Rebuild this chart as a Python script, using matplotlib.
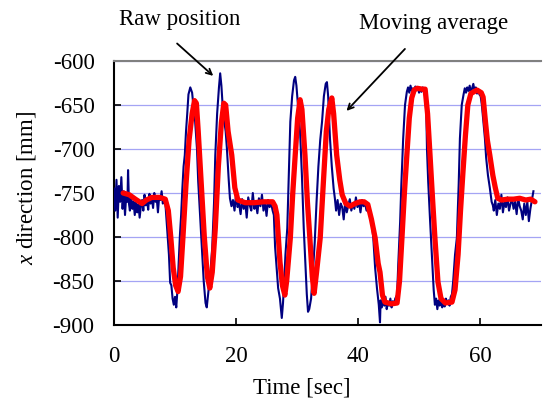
import matplotlib.pyplot as plt

plt.rcParams['font.family'] = ['Liberation Serif', 'DejaVu Serif']
plt.rcParams['mathtext.fontset'] = 'custom'
plt.rcParams['mathtext.it'] = 'Liberation Serif:italic'
plt.rcParams['mathtext.rm'] = 'Liberation Serif'
plt.rcParams['axes.unicode_minus'] = False

# raw position
raw_t = [0.0, 0.2, 0.4, 0.6, 0.8, 1.0, 1.2, 1.4, 1.6, 1.8, 2.0, 2.2, 2.3, 2.45, 2.6, 2.8,
         3.0, 3.2, 3.4, 3.6, 3.8, 4.0, 4.2, 4.4, 4.6, 4.8, 5.0, 5.2, 5.4, 5.6, 5.8,
         6.0, 6.2, 6.4, 6.6, 6.8, 7.0, 7.2, 7.4, 7.6, 7.8, 8.0, 8.2, 8.4,
         8.7, 9.0, 9.2, 9.4, 9.6, 9.8, 10.0, 10.2, 10.4, 10.6, 10.8, 11.0, 11.2, 11.4,
         11.6, 11.8, 12.0, 12.2, 12.5, 12.8, 13.0, 13.3, 13.6, 13.8, 14.1, 14.4, 14.7,
         15.0, 15.2, 15.5, 15.8, 16.1, 16.4, 16.6, 16.9, 17.2, 17.4, 17.6, 17.8, 18.0,
         18.3, 18.5, 18.8, 19.0,
         19.25, 19.5, 19.75, 20.0, 20.25, 20.5, 20.75, 21.0, 21.25, 21.5, 21.75, 22.0,
         22.25, 22.5, 22.75, 23.0, 23.25, 23.5, 23.75, 24.0, 24.25, 24.5, 24.75, 25.0,
         25.25, 25.5, 25.75, 26.0,
         26.2, 26.4, 26.7, 26.9, 27.2, 27.5, 27.7, 27.9, 28.1, 28.4, 28.6, 28.9, 29.2,
         29.5, 29.7, 29.9, 30.2, 30.5, 30.8, 31.1, 31.3, 31.6, 31.8, 32.0, 32.3, 32.6,
         32.9, 33.2, 33.5, 33.8, 34.1, 34.4, 34.7, 34.9, 35.1, 35.4, 35.7, 36.0, 36.2,
         36.4, 36.65, 36.9, 37.15, 37.4, 37.65, 37.9, 38.15, 38.4, 38.65, 38.9, 39.15,
         39.4, 39.65, 39.9, 40.15, 40.4, 40.65, 40.9, 41.15, 41.4, 41.65, 41.9,
         42.2, 42.5, 42.8, 43.1, 43.4, 43.6, 43.7,
         43.9, 44.1, 44.3, 44.5, 44.7, 44.9, 45.1, 45.3, 45.5, 45.7, 45.9, 46.1, 46.4,
         46.6, 46.9, 47.1, 47.4, 47.7, 48.0, 48.2,
         48.4, 48.6, 48.8, 49.0, 49.2, 49.4, 49.6, 49.8, 50.0, 50.2, 50.4, 50.6, 50.8,
         51.0, 51.2,
         51.3, 51.5, 51.8, 52.1, 52.4, 52.6,
         52.8, 53.0, 53.2, 53.4, 53.6, 53.8, 54.0, 54.2, 54.4, 54.6, 54.8, 55.0, 55.2,
         55.4, 55.6,
         55.9, 56.2, 56.5, 56.7, 57.0, 57.3, 57.5,
         57.7, 57.9, 58.1, 58.3, 58.5, 58.7, 58.9, 59.1, 59.3, 59.5, 59.7, 59.9, 60.1,
         60.3, 60.5,
         60.8, 61.0, 61.3, 61.6, 61.9, 62.1,
         62.25, 62.5, 62.75, 63.0, 63.25, 63.5, 63.75, 64.0, 64.25, 64.5, 64.75, 65.0,
         65.25, 65.5, 65.75, 66.0, 66.25, 66.5, 66.75, 67.0, 67.25, 67.5, 67.75, 68.0,
         68.25, 68.5, 68.75]
raw_v = [-745, -770, -735, -778, -742, -760, -732, -768, -748, -775, -752, -760, -724, -762,
         -770, -752, -768, -760, -775, -758, -772, -763, -778, -765, -758, -770, -752,
         -764, -757, -769, -751, -762, -755, -767, -750, -760, -756, -772, -754, -758,
         -748, -762, -756, -760,
         -790, -820, -852, -855, -870, -877, -868, -880, -860, -830, -798, -775, -745,
         -720, -707, -680, -660, -638, -630, -636, -650, -669, -700, -737, -775, -812,
         -850, -875, -880, -860, -840, -812, -760, -707, -660, -630, -614, -628, -650,
         -665, -680, -699, -735, -756,
         -765, -758, -770, -752, -766, -762, -774, -757, -768, -760, -778, -755, -764,
         -770, -750, -768, -762, -773, -756, -765, -752, -770, -760, -776, -758, -766,
         -762, -770,
         -775, -811, -840, -858, -870, -892, -875, -850, -820, -790, -740, -669, -640,
         -622, -618, -628, -655, -681, -730, -790, -820, -865, -885, -882, -870, -840,
         -806, -760, -720, -690, -669, -640, -626, -624, -640, -688, -720, -745, -756,
         -770, -758, -775, -762, -766, -780, -760, -772, -764, -757, -770, -762, -768,
         -755, -766, -760, -772, -758, -765, -762, -770, -768, -775,
         -780, -801, -835, -858, -877, -897, -872,
         -880, -870, -878, -868, -882, -874, -878, -870, -880, -873, -877, -870, -866,
         -830, -783, -740, -688, -650, -635, -630,
         -636, -628, -634, -631, -637, -629, -633, -630, -636, -632, -635, -630, -634,
         -640, -660,
         -700, -737, -780, -820, -860, -877,
         -870, -882, -872, -878, -868, -880, -874, -879, -870, -876, -872, -878, -868,
         -865, -850,
         -820, -801, -740, -688, -650, -638, -631,
         -636, -630, -634, -628, -636, -631, -626, -634, -630, -637, -632, -638, -640,
         -650, -665,
         -688, -710, -730, -744, -760, -764,
         -770, -758, -775, -762, -768, -752, -772, -760, -766, -755, -770, -762, -757,
         -768, -760, -774, -756, -765, -770, -780, -762, -775, -760, -782, -768, -758,
         -748]

# moving average
avg_t = [1.5, 2.5, 3.5, 4.6, 5.3, 6.2, 7.5, 8.4, 8.9, 9.3, 9.7, 10.1, 10.5, 10.9, 11.3,
         11.8, 12.3, 12.8, 13.2, 13.5, 13.8, 14.3, 14.8, 15.3, 15.7, 16.1, 16.6, 17.1,
         17.6, 18.0, 18.3, 18.7, 19.3, 19.8, 20.3, 21.5, 23.0, 24.5, 26.0, 26.4, 26.7,
         27.2, 27.6, 28.0, 28.3, 28.9, 29.3, 29.7, 30.1, 30.5, 30.8, 31.3, 31.7, 32.1,
         32.5, 32.8, 33.2, 33.8, 34.3, 34.8, 35.2, 35.7, 36.0, 36.5, 37.0, 37.4, 38.0,
         38.7, 39.5, 40.3, 41.0, 41.6, 42.2, 42.8, 43.3, 43.6, 44.0, 44.4, 45.5, 46.4,
         46.8, 47.2, 47.6, 48.0, 48.4, 48.8, 49.2, 49.7, 50.5, 51.0, 51.4, 51.8, 52.2,
         52.6, 53.1, 53.6, 54.3, 55.4, 55.9, 56.4, 56.8, 57.2, 57.6, 58.0, 58.5, 59.5,
         60.2, 60.5, 60.9, 61.2, 61.6, 62.1, 62.5, 62.9, 63.5, 64.5, 65.5, 66.5, 67.5,
         68.3, 69.0]
avg_v = [-750, -752, -757, -762, -758, -755, -755, -757, -770, -800, -835, -855, -862,
         -845, -800, -740, -690, -660, -645, -648, -680, -740, -800, -845, -858, -840,
         -790, -720, -670, -648, -650, -680, -707, -744, -758, -761, -761, -760, -760,
         -765, -775, -828, -855, -866, -850, -801, -750, -707, -665, -644, -655, -707,
         -760, -801, -845, -864, -840, -801, -740, -680, -655, -642, -660, -707, -735,
         -752, -762, -765, -762, -760, -760, -763, -780, -801, -830, -840, -866, -874,
         -876, -875, -850, -801, -750, -707, -665, -642, -633, -631, -632, -632, -660,
         -707, -755, -801, -851, -870, -875, -874, -860, -820, -770, -726, -685, -650,
         -637, -633, -636, -641, -670, -690, -707, -730, -744, -756, -758, -757, -757,
         -756, -758, -757, -760]

fig = plt.figure(figsize=(5.43, 4.0), dpi=100)
ax = fig.add_axes([0.21, 0.1875, 0.7864, 0.66])

ax.plot(raw_t, raw_v, color='#000080', lw=1.5, zorder=3)
ax.plot(avg_t, avg_v, color='#ff0000', lw=3.8, zorder=4, solid_capstyle='round')

ax.set_xlim(0, 70)
ax.set_ylim(-900, -600)
ax.set_xticks([0, 20, 40, 60])
ax.set_yticks([-900, -850, -800, -750, -700, -650, -600])
ax.yaxis.grid(True, color='#a4a4f4', lw=0.9)
ax.set_axisbelow(True)

ax.tick_params(axis='both', direction='in', length=5, width=1.2, labelsize=16.5, pad=14)
ax.tick_params(axis='x', pad=15)
ax.spines['right'].set_visible(False)
ax.spines['top'].set_color('#808080')
ax.spines['top'].set_linewidth(1.5)
ax.spines['left'].set_linewidth(1.5)
ax.spines['bottom'].set_linewidth(1.5)

fig.text(0.048, 0.53, '$x$ direction [mm]', rotation=90, ha='center', va='center', fontsize=16.5)
fig.text(302 / 543, 1 - 388 / 400, 'Time [sec]', ha='center', va='center', fontsize=16.5)

ax.annotate('', xy=(16.6, -619), xytext=(10.0, -578),
            arrowprops=dict(arrowstyle='->', color='black', lw=1.3),
            annotation_clip=False)
ax.annotate('', xy=(37.8, -659), xytext=(48.0, -584),
            arrowprops=dict(arrowstyle='->', color='black', lw=1.3),
            annotation_clip=False)
fig.text(180 / 543, 1 - 20 / 400, 'Raw position', ha='center', va='center', fontsize=16.5)
fig.text(434 / 543, 1 - 23 / 400, 'Moving average', ha='center', va='center', fontsize=16.5)

fig.savefig('out.png', dpi=100)
